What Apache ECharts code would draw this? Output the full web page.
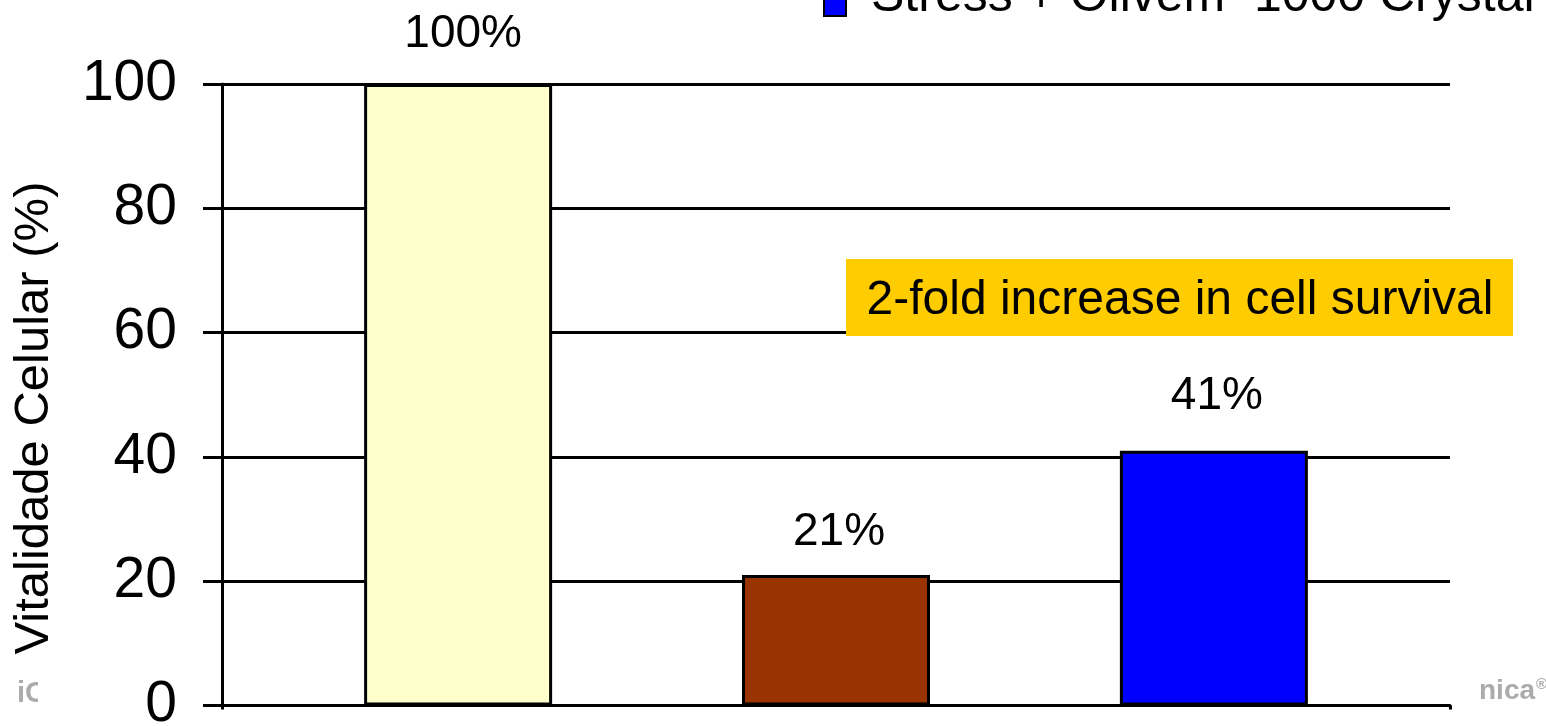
<!DOCTYPE html>
<html>
<head>
<meta charset="utf-8">
<script src="https://cdn.jsdelivr.net/npm/echarts@6/dist/echarts.min.js"></script>
<style>
  html, body { margin: 0; padding: 0; background: #fff; }
  #chart { width: 1546px; height: 726px; }
</style>
</head>
<body>
<div id="chart"></div>
<script>
// Cell viability per treatment group
const groupNames = ['Controle', 'Stress', 'Stress + Olivem® 1000 Crystal'];
const viability = [100, 21, 41];
const barColors = ['#FFFFCC', '#993300', '#0000FF'];
const labelDistances = [27, 20, 31];
const yTicks = { min: 0, max: 100, interval: 20 };
const categories = [''];

const FONT = 'Liberation Sans, Arial, Helvetica, sans-serif';
const LINE = { color: '#000', width: 3 };

const chart = echarts.init(document.getElementById('chart'), null, { renderer: 'canvas' });

const series = groupNames.map((name, i) => ({
  name: name,
  type: 'bar',
  barWidth: 188,
  barGap: '101%',
  itemStyle: { color: barColors[i], borderColor: '#000', borderWidth: 3 },
  label: {
    show: true,
    position: 'top',
    distance: labelDistances[i],
    offset: [i === 0 ? 5 : 3, 0],
    formatter: '{c}%',
    color: '#000',
    fontSize: 46,
    fontFamily: FONT
  },
  data: [viability[i]]
}));

chart.setOption({
  animation: false,
  backgroundColor: '#fff',
  grid: { left: 222, right: 96, top: 84, bottom: 20.5, containLabel: false, outerBoundsMode: 'none' },
  legend: {
    data: [groupNames[2]],
    left: 823,
    top: -28,
    padding: 0,
    icon: 'rect',
    itemWidth: 22,
    itemHeight: 22,
    itemGap: 0,
    formatter: () => 'Stress + Olivem{sup|®} 1000 Crystal',
    textStyle: {
      color: '#000',
      fontSize: 50,
      fontFamily: FONT,
      padding: [0, 0, 16, 20],
      rich: {
        sup: { fontSize: 20, fontFamily: FONT, color: '#000', verticalAlign: 'top', padding: [0, 0, 22, 0] }
      }
    }
  },
  xAxis: {
    type: 'category',
    data: categories,
    axisLine: { lineStyle: LINE },
    axisTick: { show: true, length: 4, lineStyle: LINE },
    axisLabel: { show: false },
    splitLine: { show: false }
  },
  yAxis: {
    type: 'value',
    min: yTicks.min,
    max: yTicks.max,
    interval: yTicks.interval,
    axisLine: { show: true, lineStyle: LINE },
    axisTick: { show: true, length: 19, lineStyle: LINE },
    axisLabel: { color: '#000', fontSize: 57, fontFamily: FONT, margin: 45 },
    splitLine: { show: true, lineStyle: LINE }
  },
  series: series,
  graphic: [
    {
      type: 'text',
      x: 34,
      y: 418,
      rotation: Math.PI / 2,
      style: {
        x: 0, y: 0,
        text: 'Vitalidade Celular (%)',
        fill: '#000',
        font: '49px ' + FONT,
        align: 'center',
        verticalAlign: 'middle'
      }
    },
    {
      type: 'rect',
      shape: { x: 846, y: 259, width: 667, height: 77 },
      style: { fill: '#FFCC00' },
      z: 10
    },
    {
      type: 'text',
      style: {
        x: 1180, y: 301,
        text: '2-fold increase in cell survival',
        fill: '#000',
        font: '48px ' + FONT,
        align: 'center',
        verticalAlign: 'middle'
      },
      z: 11
    },
    // slide footer fragments showing at the edges of the chart area
    {
      type: 'text',
      style: {
        x: 17, y: 694, text: 'iC', fill: '#ababab',
        font: 'bold 29px ' + FONT, align: 'left', verticalAlign: 'middle'
      }
    },
    {
      type: 'rect',
      shape: { x: 38, y: 676, width: 22, height: 36 },
      style: { fill: '#fff' },
      z: 2
    },
    {
      type: 'text',
      style: {
        x: 1479, y: 691,
        text: '{a|nica}{b|®}',
        fill: '#ababab',
        font: 'bold 28px ' + FONT, align: 'left', verticalAlign: 'middle',
        rich: {
          a: { fill: '#ababab', font: 'bold 28px ' + FONT },
          b: { fill: '#ababab', font: 'bold 15px ' + FONT, verticalAlign: 'top', padding: [0, 0, 12, 1] }
        }
      }
    }
  ]
});
</script>
</body>
</html>
